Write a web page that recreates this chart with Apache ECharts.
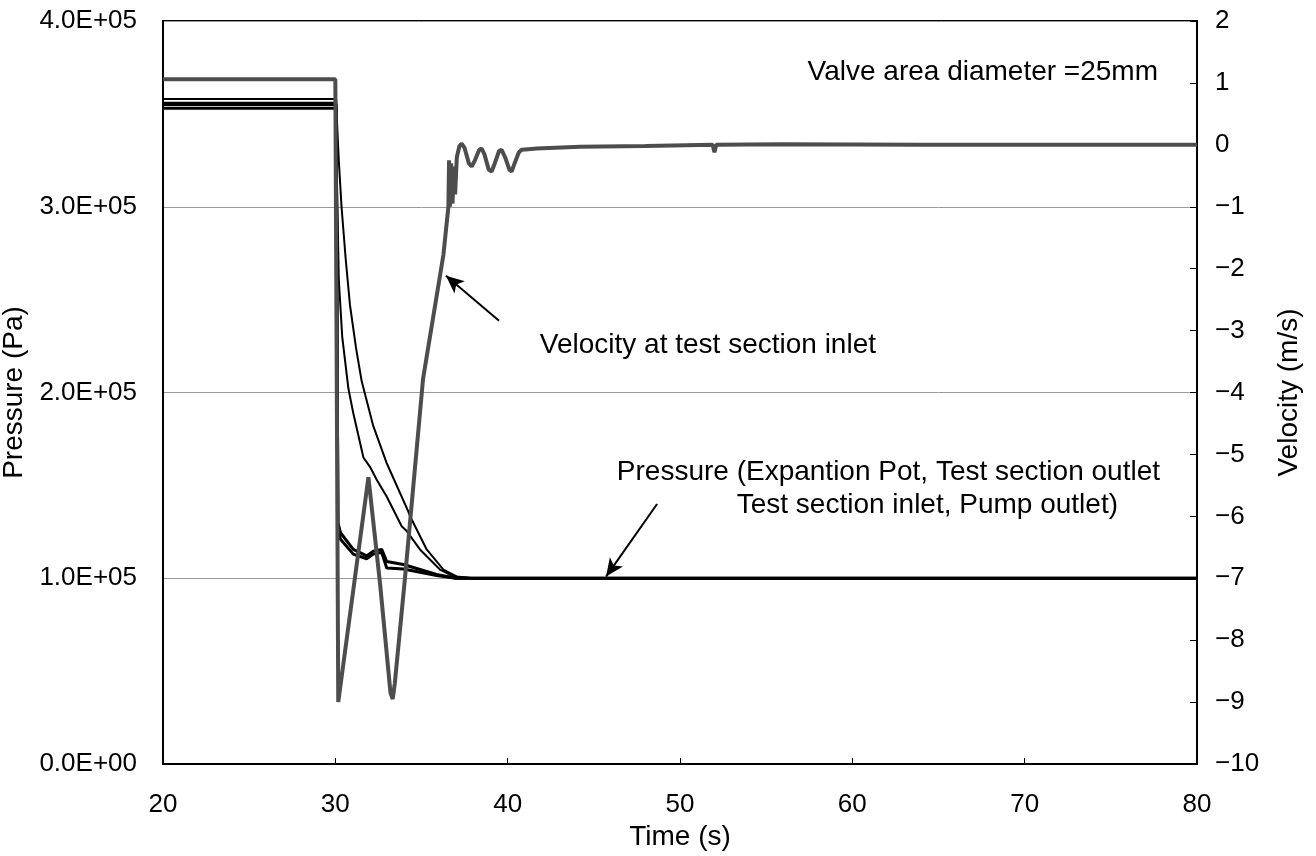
<!DOCTYPE html>
<html><head><meta charset="utf-8">
<script src="https://cdn.jsdelivr.net/npm/echarts@6/dist/echarts.min.js"></script>
<style>html,body{margin:0;padding:0;background:#fff}#c{width:1316px;height:856px}</style>
</head><body><div id="c"></div>
<script>
// ---- data ----
const velTime  = [20, 30.0, 30.05, 30.17, 31.92, 32.6, 33.2, 33.33, 33.45, 34.04, 35.09, 36.27, 36.56, 36.6, 36.65, 36.72, 36.8, 36.88, 36.95, 37.05, 37.2, 37.33, 37.5, 37.75, 37.91, 38.1, 38.35, 38.49, 38.65, 38.9, 39.07, 39.25, 39.5, 39.65, 39.85, 40.1, 40.23, 40.4, 40.65, 40.81, 41.2, 41.68, 44.2, 48, 51.9, 52.0, 52.1, 56, 64, 72, 80];
const velocity = [1.06, 1.06, 1.06, -9.0, -5.37, -7.1, -8.85, -8.95, -8.7, -7.0, -3.78, -1.78, -1.0, -0.25, -1.0, -0.3, -0.95, -0.35, -0.8, -0.2, -0.02, 0.02, -0.05, -0.3, -0.35, -0.25, -0.08, -0.06, -0.15, -0.4, -0.43, -0.3, -0.1, -0.08, -0.2, -0.4, -0.43, -0.3, -0.12, -0.08, -0.07, -0.06, -0.03, -0.02, 0.0, -0.12, 0.0, 0.01, 0.0, 0.0, 0.0];

const p1Time = [20, 30.05, 30.1, 30.2, 30.36, 30.6, 30.85, 31.2, 31.53, 32.2, 32.98, 33.17, 34.23, 34.33, 35.3, 36.27, 37.04, 38, 80];
const p1     = [3.58e5, 3.58e5, 3.45e5, 3.25e5, 3.0e5, 2.72e5, 2.47e5, 2.24e5, 2.06e5, 1.82e5, 1.62e5, 1.58e5, 1.36e5, 1.335e5, 1.155e5, 1.047e5, 1.01e5, 1.0e5, 1.0e5];

const p2Time = [20, 30.05, 30.1, 30.2, 30.4, 30.76, 31.04, 31.63, 32.01, 32.4, 32.98, 33.85, 34.14, 34.91, 36.07, 36.85, 38, 80];
const p2     = [3.56e5, 3.56e5, 3.1e5, 2.61e5, 2.3e5, 2.02e5, 1.89e5, 1.65e5, 1.6e5, 1.53e5, 1.44e5, 1.28e5, 1.254e5, 1.155e5, 1.047e5, 1.01e5, 1.0e5, 1.0e5];

const p3Time = [20, 30.05, 30.15, 30.3, 31.04, 31.82, 32.2, 32.69, 32.85, 32.98, 33.95, 35.88, 37, 80];
const p3     = [3.55e5, 3.55e5, 1.3e5, 1.245e5, 1.155e5, 1.12e5, 1.146e5, 1.155e5, 1.12e5, 1.09e5, 1.074e5, 1.02e5, 1.0e5, 1.0e5];

const p4Time = [20, 30.05, 30.15, 30.3, 31.04, 31.82, 32.2, 32.69, 32.98, 33.95, 35.88, 37, 80];
const p4     = [3.53e5, 3.53e5, 1.27e5, 1.21e5, 1.13e5, 1.105e5, 1.13e5, 1.14e5, 1.055e5, 1.05e5, 1.015e5, 1.0e5, 1.0e5];

const pressureTickLabels = ['0.0E+00', '1.0E+05', '2.0E+05', '3.0E+05', '4.0E+05'];

// annotation arrows (data coordinates: time, pressure)
const velArrow = [[39.5, 2.386e5], [36.42, 2.629e5]];
const presArrow = [[48.67, 1.40e5], [45.71, 1.009e5]];

const pair = (xs, ys) => xs.map((x, i) => [x, ys[i]]);
const FONT = 'Liberation Sans, Arial, sans-serif';

const chart = echarts.init(document.getElementById('c'), null, {renderer: 'canvas'});
const black = '#000';
chart.setOption({
  animation: false,
  backgroundColor: '#fff',
  grid: {left: 163, right: 119, top: 21, bottom: 92, containLabel: false, outerBoundsMode: 'none',
         show: true, borderColor: black, borderWidth: 2, backgroundColor: 'transparent'},
  xAxis: {
    type: 'value', min: 20, max: 80, interval: 10,
    name: 'Time (s)', nameLocation: 'middle', nameGap: 52,
    nameTextStyle: {fontFamily: FONT, fontSize: 28, color: black},
    axisLine: {lineStyle: {color: black, width: 2}},
    axisTick: {inside: true, length: 6, lineStyle: {color: black}},
    axisLabel: {fontFamily: FONT, fontSize: 26, color: black, margin: 28},
    splitLine: {show: false}
  },
  yAxis: [{
    type: 'value', min: 0, max: 4e5, interval: 1e5, position: 'left',
    name: 'Pressure (Pa)', nameLocation: 'middle', nameGap: 122, nameRotate: 90,
    nameTextStyle: {fontFamily: FONT, fontSize: 28, color: black},
    axisLine: {show: true, lineStyle: {color: black, width: 2}},
    axisTick: {show: false},
    axisLabel: {fontFamily: FONT, fontSize: 26, color: black, margin: 26,
      formatter: v => pressureTickLabels[Math.round(v / 1e5)]},
    splitLine: {show: true, lineStyle: {color: '#9a9a9a', width: 1}}
  }, {
    type: 'value', min: -10, max: 2, interval: 1, position: 'right',
    name: 'Velocity (m/s)', nameLocation: 'middle', nameGap: 78, nameRotate: 90,
    nameTextStyle: {fontFamily: FONT, fontSize: 28, color: black},
    axisLine: {show: true, lineStyle: {color: black, width: 2}},
    axisTick: {inside: true, length: 7, lineStyle: {color: black}},
    axisLabel: {fontFamily: FONT, fontSize: 26, color: black, margin: 18,
      formatter: v => (v < 0 ? '\u2212' + Math.abs(v) : String(v))},
    splitLine: {show: false}
  }],
  series: [
    {type: 'line', name: 'P1', yAxisIndex: 0, data: pair(p1Time, p1), showSymbol: false, lineStyle: {color: black, width: 2},
     markLine: {silent: true, symbol: ['none', 'arrow'], symbolSize: [12, 18], label: {show: false},
       lineStyle: {color: black, width: 2, type: 'solid'},
       data: [[{coord: velArrow[0]}, {coord: velArrow[1]}], [{coord: presArrow[0]}, {coord: presArrow[1]}]]}},
    {type: 'line', name: 'P2', yAxisIndex: 0, data: pair(p2Time, p2), showSymbol: false, lineStyle: {color: black, width: 2}},
    {type: 'line', name: 'P3', yAxisIndex: 0, data: pair(p3Time, p3), showSymbol: false, lineStyle: {color: black, width: 3}},
    {type: 'line', name: 'P4', yAxisIndex: 0, data: pair(p4Time, p4), showSymbol: false, lineStyle: {color: black, width: 3}},
    {type: 'line', name: 'Velocity', yAxisIndex: 1, data: pair(velTime, velocity), showSymbol: false, lineStyle: {color: '#4d4d4d', width: 4}}
  ],
  graphic: [
    {type: 'text', x: 1158, y: 72, style: {text: 'Valve area diameter =25mm', font: '28px ' + FONT, fill: black, textAlign: 'right', textVerticalAlign: 'middle'}},
    {type: 'text', x: 876, y: 345, style: {text: 'Velocity at test section inlet', font: '28px ' + FONT, fill: black, textAlign: 'right', textVerticalAlign: 'middle'}},
    {type: 'text', x: 1160, y: 472, style: {text: 'Pressure (Expantion Pot, Test section outlet', font: '28px ' + FONT, fill: black, textAlign: 'right', textVerticalAlign: 'middle'}},
    {type: 'text', x: 1118, y: 505, style: {text: 'Test section inlet, Pump outlet)', font: '28px ' + FONT, fill: black, textAlign: 'right', textVerticalAlign: 'middle'}}
  ]
});
</script></body></html>
